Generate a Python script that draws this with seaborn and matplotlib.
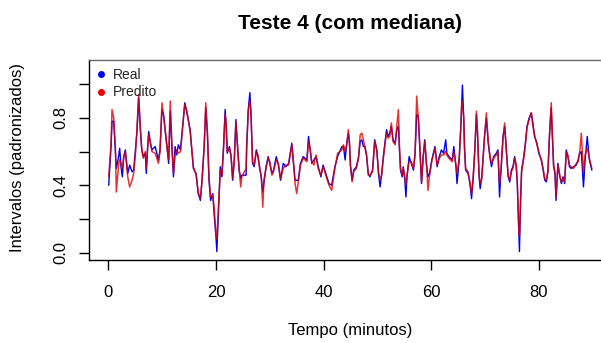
import matplotlib
matplotlib.use("Agg")
import matplotlib.pyplot as plt
import seaborn as sns
import pandas as pd
from matplotlib.lines import Line2D

minutos = [0.06, 0.5, 0.68, 0.99, 1.3, 1.48, 1.9, 2.1, 2.35, 2.6, 2.84, 3.15, 3.6, 3.96, 4.4, 4.7,
           5.07, 5.3, 5.63, 5.9, 6.2, 6.5, 6.86, 7.05, 7.3, 7.5, 7.8, 8.1, 8.7, 9.3, 9.6, 9.96,
           10.3, 10.6, 10.9, 11.2, 11.5, 11.8, 12.1, 12.4, 12.7, 13.0, 13.4, 13.8, 14.2, 14.6,
           15.2, 15.5, 15.8, 16.3, 16.7, 17.1, 17.4, 17.8, 18.1, 18.4, 18.7, 19.0, 19.4, 19.7,
           20.0, 20.16, 20.5, 20.8, 21.1, 21.4, 21.7, 21.9, 22.1, 22.5, 22.8, 23.1, 23.4, 23.7,
           24.0, 24.3, 24.6, 24.8, 25.1, 25.6, 25.7, 26.0, 26.3, 26.5, 26.8, 27.1, 27.5, 27.8,
           28.1, 28.4, 28.7, 28.9, 29.3, 29.7, 30.0, 30.4, 30.7, 31.2, 31.6, 32.0, 32.5, 33.0,
           33.5, 33.8, 34.1, 34.4, 34.7, 35.0, 35.3, 35.7, 36.2, 36.9, 37.2, 37.5, 37.8, 38.2,
           38.6, 39.0, 39.5, 39.9, 40.6, 41.0, 41.5, 42.1, 42.6, 43.4, 43.7, 44.0, 44.3, 44.6,
           44.8, 45.0, 45.3, 45.6, 46.1, 46.5, 46.8, 47.1, 47.4, 47.7, 48.0, 48.3, 48.6, 49.1,
           49.5, 49.9, 50.2, 50.5, 50.8, 51.1, 51.4, 51.7, 52.0, 52.3, 52.6, 52.9, 53.3, 53.6,
           53.9, 54.1, 54.3, 54.6, 54.8, 55.1, 55.3, 55.5, 55.9, 56.3, 56.7, 57.0, 57.3, 57.6,
           57.9, 58.2, 58.5, 58.8, 59.1, 59.4, 59.7, 60.1, 60.4, 60.7, 61.1, 61.5, 61.9, 62.3,
           62.7, 62.9, 63.3, 63.9, 64.2, 64.6, 64.8, 65.2, 65.5, 65.7, 65.8, 66.05, 66.2, 66.4,
           66.85, 67.2, 67.5, 67.8, 68.1, 68.4, 68.6, 68.9, 69.1, 69.4, 69.6, 69.9, 70.25, 70.6,
           70.9, 71.2, 71.6, 72.1, 72.4, 72.7, 73.0, 73.35, 73.65, 73.95, 74.3, 74.6, 74.9, 75.2,
           75.5, 75.8, 76.0, 76.2, 76.3, 76.4, 76.6, 76.8, 77.2, 77.5, 77.8, 78.2, 78.6, 78.9,
           79.2, 79.65, 80.0, 80.5, 80.8, 81.1, 81.4, 81.7, 82.0, 82.3, 82.5, 82.75, 83.0, 83.2,
           83.55, 83.9, 84.2, 84.5, 84.8, 85.1, 85.4, 85.7, 86.0, 86.45, 86.95, 87.3, 87.6, 87.9,
           88.3, 88.6, 89.0, 89.4, 89.85]

real = [0.40, 0.63, 0.78, 0.78, 0.61, 0.50, 0.57, 0.62, 0.51, 0.45, 0.57, 0.61, 0.47, 0.52, 0.48, 0.49,
        0.63, 0.71, 0.92, 0.75, 0.61, 0.57, 0.59, 0.47, 0.63, 0.72, 0.65, 0.61, 0.63, 0.55, 0.61, 0.85,
        0.81, 0.71, 0.63, 0.53, 0.84, 0.63, 0.45, 0.63, 0.58, 0.64, 0.61, 0.75, 0.89, 0.83,
        0.73, 0.61, 0.50, 0.47, 0.35, 0.31, 0.43, 0.63, 0.86, 0.71, 0.43, 0.31, 0.35, 0.21,
        0.095, 0.006, 0.28, 0.51, 0.45, 0.63, 0.85, 0.75, 0.59, 0.63, 0.57, 0.43, 0.55, 0.79,
        0.63, 0.49, 0.44, 0.46, 0.46, 0.46, 0.63, 0.85, 0.95, 0.83, 0.53, 0.51, 0.61, 0.57,
        0.51, 0.45, 0.36, 0.41, 0.51, 0.57, 0.53, 0.47, 0.49, 0.57, 0.52, 0.43, 0.53, 0.51,
        0.53, 0.59, 0.65, 0.53, 0.43, 0.43, 0.43, 0.53, 0.57, 0.55, 0.69, 0.61, 0.53, 0.55,
        0.57, 0.51, 0.45, 0.52, 0.45, 0.41, 0.40, 0.51, 0.57, 0.63, 0.63, 0.55, 0.65, 0.71,
        0.65, 0.51, 0.43, 0.49, 0.51, 0.57, 0.66, 0.67, 0.63, 0.63, 0.57, 0.47, 0.45, 0.49,
        0.67, 0.61, 0.47, 0.39, 0.47, 0.57, 0.65, 0.73, 0.69, 0.71, 0.75, 0.67, 0.65, 0.73,
        0.75, 0.61, 0.49, 0.45, 0.51, 0.43, 0.33, 0.45, 0.57, 0.53, 0.49, 0.59, 0.82, 0.81,
        0.61, 0.41, 0.57, 0.67, 0.53, 0.45, 0.47, 0.55, 0.59, 0.63, 0.51, 0.57, 0.61, 0.59,
        0.67, 0.59, 0.57, 0.55, 0.63, 0.51, 0.41, 0.55, 0.75, 0.92, 0.995, 0.79, 0.61, 0.49,
        0.47, 0.41, 0.32, 0.45, 0.61, 0.82, 0.71, 0.45, 0.38, 0.45, 0.55, 0.69, 0.80, 0.65,
        0.57, 0.51, 0.57, 0.59, 0.61, 0.33, 0.51, 0.69, 0.75, 0.61, 0.45, 0.42, 0.49, 0.51,
        0.57, 0.51, 0.41, 0.21, 0.095, 0.006, 0.31, 0.49, 0.57, 0.65, 0.75, 0.80, 0.83, 0.77,
        0.69, 0.65, 0.59, 0.55, 0.49, 0.43, 0.42, 0.49, 0.71, 0.86, 0.71, 0.51, 0.47, 0.31,
        0.53, 0.45, 0.41, 0.45, 0.41, 0.61, 0.57, 0.51, 0.50, 0.51, 0.52, 0.55, 0.59, 0.60,
        0.39, 0.55, 0.69, 0.55, 0.49]

predito = [0.45, 0.65, 0.85, 0.80, 0.63, 0.36, 0.52, 0.55, 0.53, 0.50, 0.56, 0.60, 0.45, 0.39, 0.43, 0.47,
           0.60, 0.73, 0.94, 0.77, 0.62, 0.56, 0.60, 0.50, 0.62, 0.70, 0.66, 0.60, 0.59, 0.53, 0.60, 0.89,
           0.80, 0.72, 0.62, 0.55, 0.90, 0.65, 0.47, 0.58, 0.61, 0.59, 0.60, 0.74, 0.88, 0.84,
           0.72, 0.62, 0.51, 0.46, 0.36, 0.32, 0.42, 0.62, 0.89, 0.72, 0.45, 0.33, 0.34, 0.25,
           0.10, 0.08, 0.30, 0.49, 0.46, 0.61, 0.82, 0.76, 0.60, 0.62, 0.58, 0.44, 0.54, 0.77,
           0.64, 0.50, 0.39, 0.45, 0.47, 0.50, 0.62, 0.84, 0.90, 0.84, 0.54, 0.52, 0.60, 0.58,
           0.50, 0.46, 0.27, 0.43, 0.50, 0.56, 0.54, 0.46, 0.48, 0.55, 0.53, 0.44, 0.50, 0.52,
           0.52, 0.58, 0.64, 0.54, 0.41, 0.35, 0.42, 0.52, 0.56, 0.54, 0.66, 0.62, 0.54, 0.52,
           0.58, 0.50, 0.46, 0.51, 0.44, 0.40, 0.37, 0.50, 0.59, 0.61, 0.64, 0.60, 0.64, 0.73,
           0.66, 0.52, 0.42, 0.48, 0.50, 0.56, 0.70, 0.71, 0.67, 0.62, 0.58, 0.46, 0.46, 0.48,
           0.66, 0.60, 0.48, 0.43, 0.46, 0.56, 0.64, 0.71, 0.68, 0.69, 0.77, 0.66, 0.64, 0.75,
           0.85, 0.63, 0.50, 0.46, 0.50, 0.45, 0.40, 0.46, 0.54, 0.54, 0.50, 0.58, 0.93, 0.80,
           0.62, 0.42, 0.56, 0.66, 0.54, 0.37, 0.46, 0.54, 0.58, 0.62, 0.52, 0.56, 0.58, 0.58,
           0.60, 0.58, 0.56, 0.54, 0.60, 0.52, 0.47, 0.56, 0.74, 0.90, 0.88, 0.80, 0.62, 0.50,
           0.48, 0.42, 0.35, 0.44, 0.60, 0.84, 0.72, 0.46, 0.41, 0.44, 0.54, 0.68, 0.83, 0.66,
           0.58, 0.53, 0.56, 0.58, 0.60, 0.41, 0.50, 0.68, 0.77, 0.62, 0.46, 0.43, 0.48, 0.50,
           0.56, 0.52, 0.42, 0.22, 0.12, 0.10, 0.30, 0.48, 0.56, 0.64, 0.74, 0.79, 0.83, 0.75,
           0.70, 0.64, 0.60, 0.54, 0.50, 0.44, 0.43, 0.48, 0.70, 0.89, 0.72, 0.52, 0.48, 0.33,
           0.52, 0.46, 0.42, 0.44, 0.42, 0.60, 0.58, 0.52, 0.51, 0.50, 0.53, 0.54, 0.60, 0.71,
           0.47, 0.58, 0.62, 0.56, 0.50]

titulo = "Teste 4 (com mediana)"
rotulo_x = "Tempo (minutos)"
rotulo_y = "Intervalos (padronizados)"
xticks = [0, 20, 40, 60, 80]
yticks = [0.0, 0.2, 0.4, 0.6, 0.8, 1.0]
ytick_labels = ["0.0", "", "0.4", "", "0.8", ""]

sns.set_theme(style="white")
plt.rcParams["font.family"] = ["Liberation Sans", "DejaVu Sans"]

df = pd.DataFrame({"minutos": minutos, "real": real, "predito": predito})

fig = plt.figure(figsize=(6.01, 3.43), dpi=100)
ax = fig.add_axes([89 / 601, 83 / 343, 523 / 601, 200 / 343])

sns.lineplot(data=df, x="minutos", y="real", color="#0000EE", linewidth=1.0,
             estimator=None, sort=False, ax=ax)
sns.lineplot(data=df, x="minutos", y="predito", color="#E00000", linewidth=1.1, alpha=0.8,
             estimator=None, sort=False, ax=ax)

ax.set_xlim(-3.6, 93.6)
ax.set_ylim(-0.044, 1.144)
ax.set_xticks(xticks)
ax.set_xticklabels([str(t) for t in xticks], fontsize=12)
ax.set_yticks(yticks)
ax.set_yticklabels(ytick_labels, fontsize=12, rotation=90, va="center")
ax.tick_params(axis="both", direction="out", length=7, width=1, color="black",
               labelcolor="black", bottom=True, left=True, top=False, right=False)
ax.tick_params(axis="y", pad=8)
ax.tick_params(axis="x", pad=11)

for s in ["left", "bottom"]:
    ax.spines[s].set_color("black")
    ax.spines[s].set_linewidth(1.0)
ax.spines["top"].set_color("#666666")
ax.spines["top"].set_linewidth(1.0)
ax.spines["right"].set_visible(False)

ax.set_xlabel(rotulo_x, fontsize=12, color="black")
ax.set_ylabel(rotulo_y, fontsize=12, color="black")
ax.xaxis.set_label_coords(0.5, -0.35)
ax.xaxis.label.set_va("center")
ax.yaxis.set_label_coords(-0.136, 0.51)
ax.yaxis.label.set_va("center")

ax.text(0.5, 1.18, titulo, transform=ax.transAxes, ha="center", va="center",
        fontsize=15, fontweight="bold", color="black")

handles = [Line2D([], [], color="#0000EE", marker="o", linestyle="none", markersize=4),
           Line2D([], [], color="#EE0000", marker="o", linestyle="none", markersize=4)]
ax.legend(handles, ["Real", "Predito"], loc="upper left", bbox_to_anchor=(0.012, 0.96),
          frameon=False, fontsize=10, handlelength=0.8, handletextpad=0.5,
          labelspacing=0.25, borderaxespad=0, borderpad=0)

fig.savefig("out.png", dpi=100)
